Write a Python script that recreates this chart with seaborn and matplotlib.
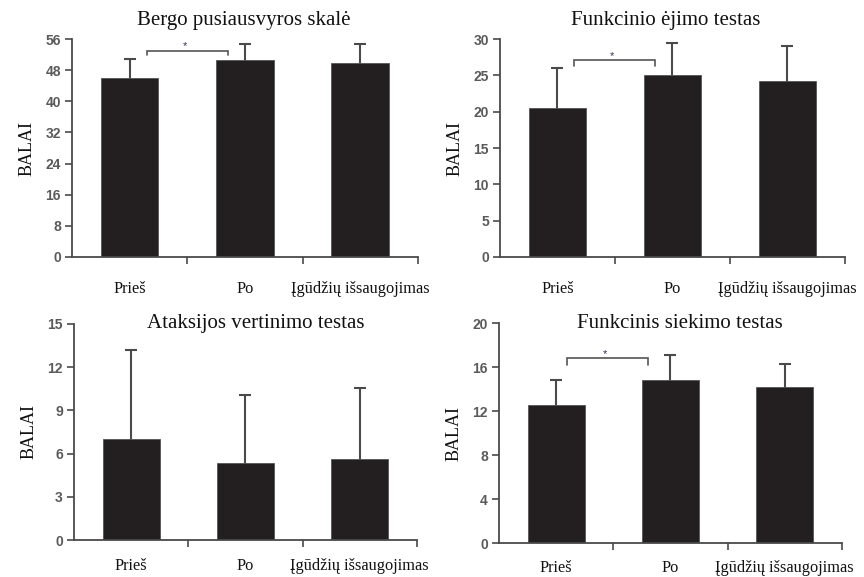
import matplotlib
matplotlib.use("Agg")
import matplotlib.pyplot as plt
import seaborn as sns
import pandas as pd
from matplotlib.ticker import FixedLocator

sns.set_theme(style="white")

# Data
categories = ["Prieš", "Po", "Įgūdžių išsaugojimas"]

berg_mean = [45.9, 50.6, 49.9]
berg_sd = [5.0, 4.2, 4.9]

fga_mean = [20.45, 25.0, 24.25]
fga_sd = [5.5, 4.4, 4.75]

ataxia_mean = [7.04, 5.37, 5.65]
ataxia_sd = [6.16, 4.71, 4.9]

frt_mean = [12.57, 14.82, 14.15]
frt_sd = [2.23, 2.28, 2.1]

titles = ["Bergo pusiausvyros skalė", "Funkcinio ėjimo testas",
          "Ataksijos vertinimo testas", "Funkcinis siekimo testas"]
y_label = "BALAI"
y_ticks = [list(range(0, 57, 8)), list(range(0, 31, 5)),
           list(range(0, 16, 3)), list(range(0, 21, 4))]
star = "*"

SERIF = ["Liberation Serif", "DejaVu Serif"]
SANS = ["Liberation Sans", "DejaVu Sans"]
BAR = "#231f20"
AXC = "#4a4a4a"
TICKC = "#5a5a5a"

fig = plt.figure(figsize=(8.64, 5.77), dpi=100)

panels = [
    dict(rect=[0.0833, 0.5546, 0.4005, 0.3778], mean=berg_mean, sd=berg_sd,
         ymax=56, ticks=y_ticks[0], title=titles[0], tpos=(0.497, 1.087),
         bracket=(0.15, 0.853, 52.9, 51.9), star_y=54.2, xpad=17),
    dict(rect=[0.5787, 0.5546, 0.3993, 0.3778], mean=fga_mean, sd=fga_sd,
         ymax=30, ticks=y_ticks[1], title=titles[1], tpos=(0.48, 1.087),
         bracket=(0.143, 0.848, 27.1, 26.3), star_y=27.6, xpad=17),
    dict(rect=[0.0856, 0.0636, 0.3970, 0.3754], mean=ataxia_mean, sd=ataxia_sd,
         ymax=15, ticks=y_ticks[2], title=titles[2], tpos=(0.53, 1.0),
         bracket=None, star_y=None, xpad=13),
    dict(rect=[0.5775, 0.0589, 0.3970, 0.3813], mean=frt_mean, sd=frt_sd,
         ymax=20, ticks=y_ticks[3], title=titles[3], tpos=(0.528, 1.0),
         bracket=(0.095, 0.80, 16.8, 16.2), star_y=17.15, xpad=12),
]

for p in panels:
    ax = fig.add_axes(p["rect"])
    df = pd.DataFrame({"cat": categories, "val": p["mean"]})
    sns.barplot(data=df, x="cat", y="val", ax=ax, color=BAR, width=0.5,
                saturation=1, errorbar=None, edgecolor="#555555", linewidth=0.6,
                zorder=2)
    # symmetric error bars drawn behind the bars, so only the upper half shows
    xs = list(range(len(categories)))
    ax.errorbar(xs, p["mean"], yerr=p["sd"], fmt="none",
                ecolor=AXC, elinewidth=1.5, capsize=4.5, capthick=1.5, zorder=1)

    ax.set_xlim(-0.5, 2.5)
    ax.set_ylim(0, p["ymax"])
    ax.set_yticks(p["ticks"])
    ax.set_yticklabels([str(t) for t in p["ticks"]], fontfamily=SANS,
                       fontweight="bold", fontsize=10, color=TICKC)
    ax.set_xticks(xs)
    ax.set_xticklabels(categories, fontfamily=SERIF, fontsize=11.8, color="#111111")
    ax.xaxis.set_minor_locator(FixedLocator([0.5, 1.5, 2.5]))
    ax.tick_params(axis="x", which="major", length=0, pad=p["xpad"])
    ax.tick_params(axis="x", which="minor", length=5, width=1.2, color=AXC,
                   direction="out", bottom=True)
    ax.tick_params(axis="y", which="major", length=5, width=1.2, color=AXC,
                   direction="out", left=True, pad=3)
    ax.set_xlabel("")
    ax.set_ylabel(y_label, fontfamily=SERIF, fontsize=13, color="#111111",
                  labelpad=7)
    for s in ["top", "right"]:
        ax.spines[s].set_visible(False)
    for s in ["left", "bottom"]:
        ax.spines[s].set_color(AXC)
        ax.spines[s].set_linewidth(1.3)
    ax.grid(False)

    ax.text(p["tpos"][0], p["tpos"][1], p["title"], transform=ax.transAxes,
            ha="center", va="center", fontfamily=SERIF, fontsize=15,
            color="#111111", clip_on=False)

    if p["bracket"] is not None:
        x0, x1, yb, yt = p["bracket"]
        ax.plot([x0, x0, x1, x1], [yt, yb, yb, yt], color="#555555",
                lw=1.2, solid_joinstyle="miter", zorder=3, clip_on=False)
        ax.text((x0 + x1) / 2 - 0.02, p["star_y"], star, ha="center",
                va="center", fontsize=8, color="#333355",
                fontfamily=SANS)

fig.savefig("out.png", dpi=100)
